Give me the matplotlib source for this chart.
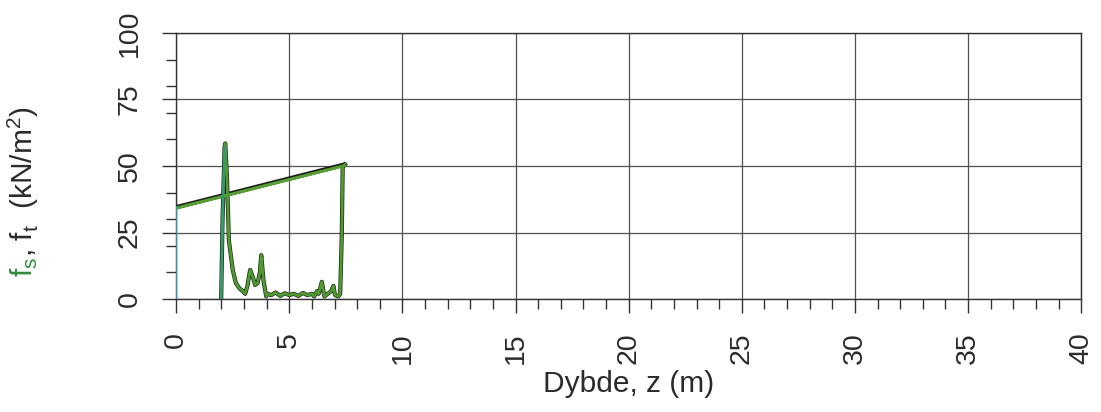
import numpy as np
import matplotlib.pyplot as plt
from matplotlib.ticker import MultipleLocator

plt.rcParams['font.family'] = ['Liberation Sans', 'DejaVu Sans']

# ---- data ----
# linear line (f_t): from the pile top down to the tip
lin_z  = [0.0, 7.46, 7.36]
lin_f  = [34.5, 50.6, 49.7]

# measured curve (f_s)
fs_z = [1.99, 2.05, 2.14, 2.17, 2.25, 2.33, 2.50, 2.64, 2.80, 2.95, 3.05,
        3.15, 3.27, 3.40, 3.49, 3.60, 3.70, 3.76, 3.86, 3.98, 4.03, 4.20,
        4.40, 4.60, 4.80, 5.00, 5.20, 5.40, 5.60, 5.80, 6.00, 6.10, 6.22,
        6.30, 6.44, 6.55, 6.70, 6.85, 6.95, 7.02, 7.17, 7.25, 7.32, 7.36,
        7.46]
fs_f = [0.0, 30.0, 57.0, 58.5, 45.0, 22.0, 11.0, 6.0, 4.0, 3.0, 2.0,
        5.0, 11.0, 8.0, 5.3, 6.0, 10.0, 16.5, 7.0, 1.0, 2.0, 1.5,
        2.5, 1.2, 2.2, 1.5, 2.0, 1.2, 2.3, 1.5, 2.0, 1.0, 3.0,
        2.0, 6.5, 1.0, 2.0, 3.0, 5.0, 1.5, 1.0, 2.0, 24.0, 49.7,
        50.6]

x_ticks = [0, 5, 10, 15, 20, 25, 30, 35, 40]
y_ticks = [0, 25, 50, 75, 100]

# ---- figure ----
fig = plt.figure(figsize=(11.01, 4.12), dpi=100)
ax = fig.add_axes([0.16, 0.274, 0.822, 0.646])

ax.plot([0, 0], [0, lin_f[0]], color='#2a9ab0', lw=1.4, zorder=6)
ax.plot(fs_z[:3], fs_f[:3], color='#2a9a80', lw=1.4, zorder=6)
ax.plot(lin_z, lin_f, color='#1e1e1e', lw=3.2, zorder=4, solid_joinstyle='round')
ax.plot(fs_z, fs_f, color='#222222', lw=3.0, zorder=4)
ax.plot(lin_z[:2], [lin_f[0] - 0.3, lin_f[1] - 0.4], color='#56a032', lw=2.2, zorder=5)
ax.plot(fs_z, fs_f, color='#4f9c2e', lw=2.0, zorder=5)

ax.set_xlim(0, 40)
ax.set_ylim(0, 100)
ax.set_xticks(x_ticks)
ax.set_yticks(y_ticks)
ax.xaxis.set_minor_locator(MultipleLocator(1))
ax.yaxis.set_minor_locator(MultipleLocator(10))
ax.grid(which='major', color='#505050', lw=0.9)
ax.set_axisbelow(True)

ax.tick_params(which='major', direction='out', length=10, width=1, color='#333333',
               labelsize=20.5, labelcolor='#2b2b2b')
ax.tick_params(which='minor', direction='out', length=7, width=1, color='#333333')
ax.tick_params(axis='x', labelrotation=90, pad=14)
ax.tick_params(axis='y', labelrotation=90, pad=14)
for lab in ax.get_yticklabels():
    lab.set_verticalalignment('center')
for s in ax.spines.values():
    s.set_color('#333333')
    s.set_linewidth(1.0)

ax.set_xlabel('Dybde, z (m)', fontsize=21.5, color='#2b2b2b', labelpad=4)

# y label in two colours
x0, y0 = 0.030, 0.328
t1 = fig.text(x0, y0, r'f$_\mathregular{s}$', color='#2e8b3a', fontsize=21.5,
              rotation=90, rotation_mode='anchor', ha='left', va='baseline')
fig.canvas.draw()
bb = t1.get_window_extent()
fig.text(x0, y0 + bb.height / fig.bbox.height,
         r', f$_\mathregular{t}$  (kN/m$^\mathregular{2}$)', color='#2b2b2b',
         fontsize=21.5, rotation=90, rotation_mode='anchor', ha='left', va='baseline')

fig.savefig('out.png', dpi=100)
